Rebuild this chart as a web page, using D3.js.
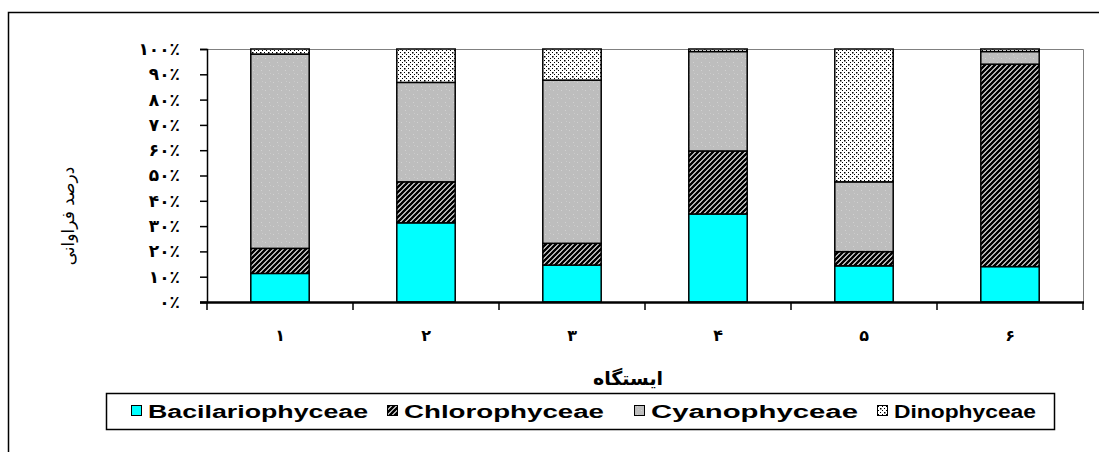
<!DOCTYPE html>
<html>
<head>
<meta charset="utf-8">
<script src="https://cdn.jsdelivr.net/npm/d3@7"></script>
<style>
  html, body { margin: 0; padding: 0; background: #fff; }
  svg { display: block; }
</style>
</head>
<body>
<svg id="chart" width="1099" height="452"></svg>
<script>
// ---- data ----
const categories = ["۱", "۲", "۳", "۴", "۵", "۶"];
const seriesNames = ["Bacilariophyceae", "Chlorophyceae", "Cyanophyceae", "Dinophyceae"];
const bacilariophyceae = [11.3, 31.3, 14.6, 34.8, 14.3, 14.0];
const chlorophyceae    = [9.9, 16.2, 8.6, 24.9, 5.6, 80.0];
const cyanophyceae     = [76.8, 39.3, 64.5, 39.3, 27.6, 5.0];
const dinophyceae      = [2.0, 13.2, 12.3, 1.0, 52.5, 1.0];
const yTickValues = [0, 10, 20, 30, 40, 50, 60, 70, 80, 90, 100];
const yTickLabels = ["۰٪", "۱۰٪", "۲۰٪", "۳۰٪", "۴۰٪", "۵۰٪", "۶۰٪", "۷۰٪", "۸۰٪", "۹۰٪", "۱۰۰٪"];
const xTitle = "ایستگاه";
const yTitle = "درصد فراوانی";

// ---- build table ----
const seriesValues = [bacilariophyceae, chlorophyceae, cyanophyceae, dinophyceae];
const table = categories.map((c, i) => {
  const row = { cat: c };
  seriesNames.forEach((s, j) => row[s] = seriesValues[j][i]);
  return row;
});

const svg = d3.select("#chart");
const defs = svg.append("defs");

// hatch for Chlorophyceae
const hatch = defs.append("pattern").attr("id", "p1").attr("patternUnits", "userSpaceOnUse")
  .attr("width", 5).attr("height", 5);
hatch.append("rect").attr("width", 5).attr("height", 5).attr("fill", "#fff");
hatch.append("path").attr("d", "M-1,6 L6,-1 M-1,1 L1,-1 M4,6 L6,4")
  .attr("stroke", "#000").attr("stroke-width", 2.6);
// speckled grey for Cyanophyceae
const grey = defs.append("pattern").attr("id", "p2").attr("patternUnits", "userSpaceOnUse")
  .attr("width", 8).attr("height", 8);
grey.append("rect").attr("width", 8).attr("height", 8).attr("fill", "#bdbdbd");
grey.append("rect").attr("x", 1).attr("y", 2).attr("width", 1).attr("height", 1).attr("fill", "#d2d2d2");
grey.append("rect").attr("x", 5).attr("y", 6).attr("width", 1).attr("height", 1).attr("fill", "#d2d2d2");
grey.append("rect").attr("x", 6).attr("y", 1).attr("width", 1).attr("height", 1).attr("fill", "#cacaca");
// dotted for Dinophyceae
const dots = defs.append("pattern").attr("id", "p3").attr("patternUnits", "userSpaceOnUse")
  .attr("width", 8).attr("height", 8);
dots.append("rect").attr("width", 8).attr("height", 8).attr("fill", "#fff");
[[0,0,1.5],[4,0,1],[2,2,1],[6,2,1],[0,4,1],[4,4,1.5],[2,6,1],[6,6,1]].forEach(d => {
  dots.append("rect").attr("x", d[0]).attr("y", d[1]).attr("width", d[2]).attr("height", d[2]).attr("fill", "#000");
});

const fills = ["#00ffff", "url(#p1)", "url(#p2)", "url(#p3)"];

// outer frame
svg.append("path").attr("d", "M8.5,452 L8.5,12.5 L1099,12.5").attr("fill", "none").attr("stroke", "#000").attr("stroke-width", 1.5);

// plot area
const pLeft = 207, pRight = 1083, pTop = 49, pBottom = 302;
const x = d3.scaleBand().domain(categories).range([pLeft, pRight]).paddingInner(0.6).paddingOuter(0.3);
const xBand = d3.scaleBand().domain(categories).range([pLeft, pRight]);
const y = d3.scaleLinear().domain([0, 100]).range([pBottom, pTop]);

// plot frame (grey top and right)
svg.append("path").attr("d", `M${pLeft},${pTop + 0.5} L${pRight + 0.5},${pTop + 0.5} L${pRight + 0.5},${pBottom}`)
  .attr("fill", "none").attr("stroke", "#808080").attr("stroke-width", 1);

// stacked bars
const stack = d3.stack().keys(seriesNames);
const layers = stack(table);
const g = svg.append("g");
layers.forEach((layer, j) => {
  g.selectAll(null).data(layer).enter().append("rect")
    .attr("x", d => x(d.data.cat))
    .attr("width", x.bandwidth())
    .attr("y", d => y(d[1]))
    .attr("height", d => y(d[0]) - y(d[1]))
    .attr("fill", fills[j])
    .attr("stroke", "#000")
    .attr("stroke-width", 1.5);
});

// y axis
const yAxis = d3.axisLeft(y).tickValues(yTickValues).tickSize(7)
  .tickFormat((d, i) => yTickLabels[i]);
const yg = svg.append("g").attr("transform", `translate(${pLeft},0)`).call(yAxis);
yg.select(".domain").attr("stroke-width", 1.5);
yg.selectAll(".tick line").attr("stroke-width", 1.5);
yg.selectAll("text").attr("x", -27).attr("font-family", "DejaVu Sans").attr("font-size", 17)
  .attr("font-weight", "bold").attr("fill", "#000");

// x axis
const xAxis = d3.axisBottom(xBand).tickSize(0).tickFormat(d => d);
const xg = svg.append("g").attr("transform", `translate(0,${pBottom})`).call(xAxis);
xg.select(".domain").attr("stroke-width", 2.5).attr("d", `M${pLeft - 7},0.5H${pRight + 1}`);
xg.selectAll("text").attr("y", 28).attr("dy", "0.71em").attr("font-family", "DejaVu Sans")
  .attr("font-size", 16).attr("font-weight", "bold").attr("fill", "#000");
const bounds = categories.map(c => xBand(c)).concat([pRight]);
xg.selectAll(null).data(bounds).enter().append("line")
  .attr("x1", d => d).attr("x2", d => d).attr("y1", 0).attr("y2", 8)
  .attr("stroke", "#000").attr("stroke-width", 1.5);

// axis titles
svg.append("text").attr("x", 628).attr("y", 385).attr("text-anchor", "middle")
  .attr("font-family", "DejaVu Sans").attr("font-size", 19).attr("font-weight", "bold").text(xTitle);
svg.append("text").attr("transform", "translate(74,216) rotate(-90)").attr("text-anchor", "middle")
  .attr("font-family", "DejaVu Sans").attr("font-size", 17).text(yTitle);

// legend
svg.append("rect").attr("x", 106.5).attr("y", 393.5).attr("width", 948).attr("height", 36)
  .attr("fill", "#fff").attr("stroke", "#000").attr("stroke-width", 1.5);
const legendX = [131, 387, 634, 877];
const legendTextEnd = [368, 604, 858, 1036];
seriesNames.forEach((s, j) => {
  svg.append("rect").attr("x", legendX[j] + 0.5).attr("y", 405.5).attr("width", 10).attr("height", 10)
    .attr("fill", fills[j]).attr("stroke", "#000").attr("stroke-width", 1);
  svg.append("text").attr("x", legendX[j] + 17).attr("y", 418)
    .attr("font-family", "Liberation Sans, Arial, sans-serif").attr("font-size", 18).attr("font-weight", "bold")
    .attr("textLength", legendTextEnd[j] - legendX[j] - 17).attr("lengthAdjust", "spacingAndGlyphs")
    .text(s);
});
</script>
</body>
</html>
